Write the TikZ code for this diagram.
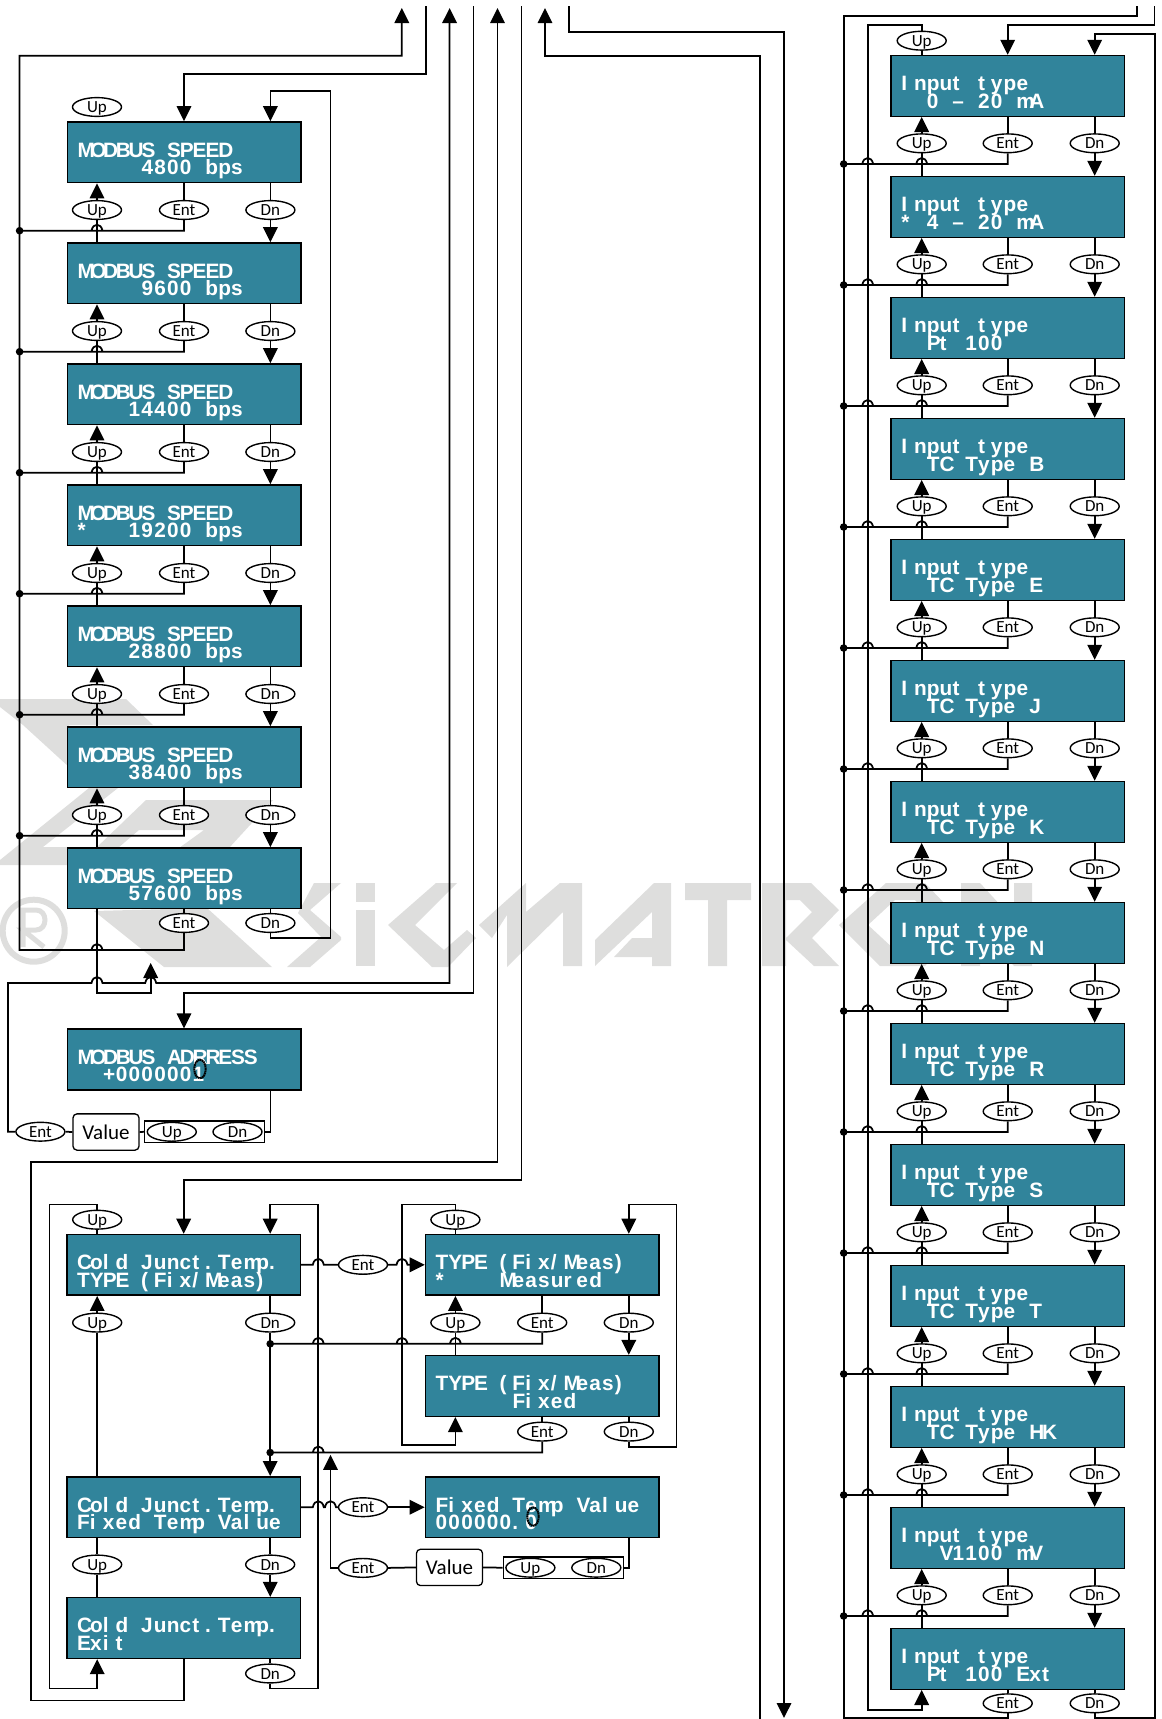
\documentclass[tikz,border=0pt]{standalone}
\usepackage{fontspec}
\usetikzlibrary{shapes.geometric,arrows.meta,calc}
\setmainfont{Liberation Sans}
\newfontfamily\keyfont{Carlito}
\definecolor{lcdteal}{HTML}{31849B}
\definecolor{wmgrey}{HTML}{DEDEDD}
\pgfdeclarelayer{wmlayer}
\pgfdeclarelayer{connlayer}
\pgfsetlayers{wmlayer,connlayer,main}
\makeatletter
\newcommand\lcdlineB[1]{\@tfor\lcdch:=#1\do{\makebox[12.8pt][l]{\lcdch}}}
\newcommand\lcdline[1]{\expandafter\lcdlineB\expandafter{#1}}
\makeatother
\newcommand\lcdii[2]{\makebox[213pt][l]{\bfseries\fontsize{20.8}{20.8}\selectfont\rlap{\raisebox{-4.9pt}[0pt][0pt]{\lcdline{#1}}}\rlap{\raisebox{-22.3pt}[0pt][0pt]{\lcdline{#2}}}}}
\newcommand\kl[1]{\raisebox{-5.6pt}[0pt][0pt]{\makebox[0pt]{\keyfont\fontsize{17}{17}\selectfont #1}}}
\newcommand\hh[2]{-- (#1-5.5,#2) .. controls (#1-4,#2-8) and (#1+4,#2-8) .. (#1+5.5,#2)}
\tikzset{
  lcd/.style={rectangle,draw=black,line width=1.5pt,fill=lcdteal,text=white,minimum width=233.5pt,minimum height=60.7pt,inner sep=0pt},
  keybtn/.style={ellipse,draw=black,line width=1.4pt,fill=white,minimum width=49pt,minimum height=18.8pt,inner sep=0pt},
  valbox/.style={rectangle,rounded corners=4pt,draw=black,line width=1.3pt,fill=white,minimum width=66pt,minimum height=36.3pt,inner sep=0pt,font=\keyfont\fontsize{21}{21}\selectfont},
  pairbox/.style={rectangle,draw=black,line width=1.3pt,fill=white,minimum width=120pt,minimum height=21.7pt,inner sep=0pt},
  jdot/.style={circle,fill=black,minimum size=7.6pt,inner sep=0pt},
  cursorring/.style={ellipse,draw=black,line width=2pt,dash pattern=on 1.6pt off 0.5pt,minimum width=11.5pt,minimum height=18.5pt,inner sep=0pt},
  conn/.style={draw=black,line width=1.75pt},
  arr/.style={conn,-{Triangle[length=15pt,width=14.5pt]}},
  wm/.style={fill=wmgrey,draw=none}
}
\begin{document}
\begin{tikzpicture}[x=1pt,y=-1pt]
\useasboundingbox (0,0) rectangle (1162,1719);
% free ends
\coordinate (tA) at (401.8,8);
\coordinate (tB) at (425.7,6);
\coordinate (tC) at (449.6,8);
\coordinate (tD) at (473.6,6);
\coordinate (tE) at (497.5,8);
\coordinate (tF) at (521.4,6);
\coordinate (tG) at (545,8);
\coordinate (tH) at (569,6);
\coordinate (tI) at (1136.7,6);
\coordinate (tJ) at (1154.5,6);
\coordinate (bG) at (760,1719);
\coordinate (bH) at (784,1718);
\coordinate (tipV) at (150.7,963);
\coordinate (tipW) at (330.5,1454.8);
% left column
\node[keybtn] (mu0) at (97,107) {\kl{Up}};
\foreach \i/\tx in {1/\ \ \ \ \ 4800\ bps,2/\ \ \ \ \ 9600\ bps,3/\ \ \ \ 14400\ bps,4/*\ \ \ 19200\ bps,5/\ \ \ \ 28800\ bps,6/\ \ \ \ 38400\ bps,7/\ \ \ \ 57600\ bps}{
  \node[lcd] (m\i) at (184,{152.3+121*(\i-1)}) {\lcdii{MODBUS\ SPEED}{\tx}};
}
\foreach \i in {1,...,6}{
  \node[keybtn] (mu\i) at (97,{210+121*(\i-1)}) {\kl{Up}};
  \node[keybtn] (me\i) at (184,{210+121*(\i-1)}) {\kl{Ent}};
  \node[keybtn] (md\i) at (270.4,{210+121*(\i-1)}) {\kl{Dn}};
  \node[jdot] (mj\i) at (19.6,{230.7+121*(\i-1)}) {};
}
\node[keybtn] (me7) at (184,923) {\kl{Ent}};
\node[keybtn] (md7) at (270.4,923) {\kl{Dn}};
% modbus address
\node[lcd] (addr) at (184,1059.5) {\lcdii{MODBUS\ ADRRESS}{\ \ +0000001}};
\node[cursorring] (ring1) at (200,1069) {};
\node[keybtn] (ent8) at (40.4,1131.7) {\kl{Ent}};
\node[valbox] (val1) at (106,1132) {Value};
\node[pairbox] (pair1) at (204.6,1131.8) {};
\node[keybtn] (up8) at (171.8,1131.8) {\kl{Up}};
\node[keybtn] (dn8) at (237.5,1131.8) {\kl{Dn}};
% cold junction
\node[lcd] (c1) at (183.7,1264.8) {\lcdii{Cold\ Junct.Temp.}{TYPE\ (Fix/Meas)}};
\node[lcd] (c2) at (183.7,1507.2) {\lcdii{Cold\ Junct.Temp.}{Fixed\ Temp\ Value}};
\node[lcd] (c3) at (183.7,1628) {\lcdii{Cold\ Junct.Temp.}{Exit}};
\node[lcd] (t1) at (542.2,1264.8) {\lcdii{TYPE\ (Fix/Meas)}{*\ \ \ \ Measured}};
\node[lcd] (t2) at (542.2,1386) {\lcdii{TYPE\ (Fix/Meas)}{\ \ \ \ \ \ Fixed}};
\node[lcd] (f1) at (542.2,1507.2) {\lcdii{Fixed\ Temp\ Value}{000000.0}};
\node[cursorring] (ring2) at (533,1516.6) {};
\node[keybtn] (cu0) at (97.2,1219.7) {\kl{Up}};
\node[keybtn] (cu1) at (97.2,1322.6) {\kl{Up}};
\node[keybtn] (cd1) at (270.2,1322.6) {\kl{Dn}};
\node[keybtn] (cu2) at (97.2,1564.5) {\kl{Up}};
\node[keybtn] (cd2) at (270.2,1564.5) {\kl{Dn}};
\node[keybtn] (cd3) at (270.2,1673.5) {\kl{Dn}};
\node[keybtn] (ce1) at (363,1264.8) {\kl{Ent}};
\node[keybtn] (ce2) at (363,1507.2) {\kl{Ent}};
\node[keybtn] (ce3) at (363,1567.9) {\kl{Ent}};
\node[valbox] (val2) at (449.5,1567.4) {Value};
\node[pairbox] (pair2) at (563.2,1567.7) {};
\node[keybtn] (up9) at (530.4,1567.7) {\kl{Up}};
\node[keybtn] (dn9) at (596.3,1567.7) {\kl{Dn}};
\node[keybtn] (tu0) at (455.4,1219.7) {\kl{Up}};
\node[keybtn] (tu1) at (455.4,1322.6) {\kl{Up}};
\node[keybtn] (te1) at (542.2,1322.6) {\kl{Ent}};
\node[keybtn] (td1) at (628.8,1322.6) {\kl{Dn}};
\node[keybtn] (te2) at (542.2,1431.6) {\kl{Ent}};
\node[keybtn] (td2) at (628.8,1431.6) {\kl{Dn}};
\node[jdot] (cj1) at (270.2,1343.8) {};
\node[jdot] (cj2) at (270.2,1452.5) {};
% right column
\node[keybtn] (ru0) at (921.7,40.7) {\kl{Up}};
\foreach \i/\tx in {1/\ \ 0\ –\ 20\ mA,2/*\ 4\ –\ 20\ mA,3/\ \ Pt\ 100,4/\ \ TC\ Type\ B,5/\ \ TC\ Type\ E,6/\ \ TC\ Type\ J,7/\ \ TC\ Type\ K,8/\ \ TC\ Type\ N,9/\ \ TC\ Type\ R,10/\ \ TC\ Type\ S,11/\ \ TC\ Type\ T,12/\ \ TC\ Type\ HK,13/\ \ \ V1100\ mV,14/\ \ Pt\ 100\ Ext}{
  \node[lcd] (r\i) at (1007.8,{85.9+121*(\i-1)}) {\lcdii{Input\ type}{\tx}};
}
\foreach \i in {1,...,13}{
  \node[keybtn] (ru\i) at (921.7,{143.3+121*(\i-1)}) {\kl{Up}};
  \node[keybtn] (re\i) at (1007.7,{143.3+121*(\i-1)}) {\kl{Ent}};
  \node[keybtn] (rd\i) at (1094.7,{143.3+121*(\i-1)}) {\kl{Dn}};
  \node[jdot] (rj\i) at (843.7,{164+121*(\i-1)}) {};
}
\node[keybtn] (re14) at (1007.7,1703.3) {\kl{Ent}};
\node[keybtn] (rd14) at (1094.7,1703.3) {\kl{Dn}};

% watermark
\begin{pgfonlayer}{wmlayer}
\fill[wm] (0,699)--(126,699)--(153,725)--(69,725)--(69,767)--(23,725)--(0,707)--cycle;
\fill[wm] (89,788)--(118,788)--(43,847)--(68,847)--(68,865)--(0,865)--(0,860)--cycle;
\fill[wm] (146,800)--(273,800)--(229,848)--(179,848)--(204,830)--(139,830)--(118,848)--(96,848)--cycle;
\fill[wm] (94,911)--(164,967)--(272,967)--(207,908)--cycle;
\fill[wm] (314,883)--(341,883)--(310,910)--(341,937)--(341,940)--(310,967)--(287,967)--(321,937)--(298,913)--cycle;
\fill[wm] (356,883) rectangle (375,902);
\fill[wm] (356,910) rectangle (375,966);
\fill[wm] (388,925)--(436,883)--(457,883)--(415,925)--(444,950)--(467,930)--(476,938)--(448,967)--(432,967)--cycle;
\fill[wm] (479,925)--(526,883)--(526,912)--(560,883)--(582,883)--(582,966)--(563,966)--(563,912)--(507,967)--(507,915)--(492,938)--cycle;
\fill[wm] (595,940)--(654,883)--(671,883)--(671,966)--(652,966)--(652,957)--(614,957)--(632,938)--(652,938)--(652,912)--(595,966)--cycle;
\fill[wm] (685,883)--(751,883)--(751,900)--(727,900)--(727,966)--(708,966)--(708,900)--(685,900)--cycle;
\fill[wm,even odd rule] (762,883)--(811,883)--(839,910)--(812,938)--(839,966)--(814,966)--(786,940)--(786,966)--(762,966)--cycle (786,900)--(800,900)--(812,912)--(786,938)--cycle;
\fill[wm,even odd rule] (839,925)--(886,883)--(925,883)--(965,925)--(925,966)--(880,966)--cycle (868,925)--(895,900)--(915,900)--(940,925)--(915,950)--(895,950)--cycle;
\fill[wm] (961,883)--(980,883)--(1014,920)--(1014,883)--(1032,883)--(1032,966)--(1014,966)--(980,930)--(980,966)--(961,966)--cycle;
\draw[wmgrey,line width=6pt] (33.7,930.7) circle[radius=31];
\draw[wmgrey,line width=5pt] (23,947)--(23,910)--(36,910) .. controls (48,910) and (48,930) .. (36,930) --(23,930)--(44,947);
\end{pgfonlayer}

% connectors
\begin{pgfonlayer}{connlayer}
\foreach \i [evaluate=\i as \j using int(\i+1), evaluate=\i as \yy using 230.7+121*(\i-1)] in {1,...,6}{
  \draw[arr] (mu\i.north) -- (m\i.south -| mu\i);
  \draw[conn] (mu\i.south) -- (m\j.north -| mu\i);
  \draw[conn] (m\i.south -| me\i) -- (me\i.north);
  \draw[conn] (me\i.south) -- (184,\yy) \hh{97}{\yy} -- (mj\i.center);
  \draw[conn] (m\i.south -| md\i) -- (md\i.north);
  \draw[arr] (md\i.south) -- (m\j.north -| md\i);
}
\draw[conn] (m7.south -| me7) -- (me7.north);
\draw[conn] (m7.south -| md7) -- (md7.north);
\draw[arr] (me7.south) -- (184,950) \hh{97}{950} -- (19.6,950) -- (19.6,55.7) -- (401.8,55.7) -- (tA);
\draw[arr] (tB) -- (425.7,73.7) -- (184,73.7) -- (m1.north);
\draw[arr] (md7.south) -- (270.4,938.3) -- (330.4,938.3) -- (330.4,91) -- (270.4,91) -- (m1.north -| md1);
\draw[arr] (ent8.west) -- (7.9,1131.7) -- (7.9,983) \hh{97}{983} \hh{150.7}{983} -- (449.6,983) -- (tC);
\draw[arr] (m7.south -| mu0) -- (97,992.7) -- (150.7,992.7) -- (tipV);
\draw[arr] (tD) -- (473.6,992.7) -- (184,992.7) -- (addr.north);
\draw[conn] (addr.south -| md7) -- (270.4,1131.8) -- (pair1.east);
\draw[conn] (pair1.west) -- (val1.east);
\draw[conn] (val1.west) -- (ent8.east);
\draw[arr] (c3.south) -- (183.7,1700.5) -- (31.3,1700.5) -- (31.3,1162.3) -- (497.5,1162.3) -- (tE);
\draw[arr] (tF) -- (521.4,1180) -- (183.7,1180) -- (c1.north);
\draw[arr] (bG) -- (760,55.7) -- (545,55.7) -- (tG);
\draw[arr] (tH) -- (569,31.7) -- (784,31.7) -- (bH);
% cold junction connectors
\draw[conn] (c1.north -| cu0) -- (cu0.south);
\draw[arr] (cu0.north) -- (97.2,1204.5) -- (49.5,1204.5) -- (49.5,1688.6) -- (97.2,1688.6) -- (c3.south -| cu0);
\draw[arr] (cu1.north) -- (c1.south -| cu1);
\draw[conn] (cu1.south) -- (c2.north -| cu1);
\draw[conn] (c2.south -| cu2) -- (cu2.north);
\draw[conn] (cu2.south) -- (c3.north -| cu2);
\draw[conn] (c1.south -| cd1) -- (cd1.north);
\draw[arr] (cd1.south) -- (cj1.center) -- (cj2.center) -- (c2.north -| cd1);
\draw[conn] (c2.south -| cd2) -- (cd2.north);
\draw[arr] (cd2.south) -- (c3.north -| cd2);
\draw[conn] (c3.south -| cd3) -- (cd3.north);
\draw[arr] (cd3.south) -- (270.2,1688.6) -- (318.3,1688.6) -- (318.3,1204.5) -- (270.2,1204.5) -- (c1.north -| cd1);
\draw[conn] (c1.east) \hh{318.3}{1264.8} -- (ce1.west);
\draw[arr] (ce1.east) \hh{402}{1264.8} -- (t1.west);
\draw[conn] (c2.east) \hh{318.3}{1507.2} \hh{330.5}{1507.2} -- (ce2.west);
\draw[arr] (ce2.east) -- (f1.west);
\draw[arr] (ce3.west) -- (330.5,1567.9) -- (tipW);
\draw[conn] (ce3.east) -- (val2.west);
\draw[conn] (val2.east) -- (pair2.west);
\draw[conn] (pair2.east) -- (628.8,1567.7) -- (f1.south -| td1);
\draw[conn] (t1.north -| tu0) -- (tu0.south);
\draw[arr] (tu0.north) -- (455.4,1204.5) -- (402,1204.5) -- (402,1445) -- (455.4,1445) -- (t2.south -| tu0);
\draw[arr] (tu1.north) -- (t1.south -| tu1);
\draw[conn] (tu1.south) -- (t2.north -| tu1);
\draw[conn] (t1.south -| te1) -- (te1.north);
\draw[conn] (te1.south) -- (542.2,1343.8) \hh{455.4}{1343.8} \hh{402}{1343.8} \hh{318.3}{1343.8} -- (cj1.center);
\draw[conn] (t1.south -| td1) -- (td1.north);
\draw[arr] (td1.south) -- (t2.north -| td1);
\draw[conn] (t2.south -| te2) -- (te2.north);
\draw[conn] (te2.south) -- (542.2,1452.5) \hh{318.3}{1452.5} -- (cj2.center);
\draw[conn] (t2.south -| td2) -- (td2.north);
\draw[arr] (td2.south) -- (628.8,1446.7) -- (676.5,1446.7) -- (676.5,1204.5) -- (628.8,1204.5) -- (t1.north -| td2);
% right column connectors
\foreach \i [evaluate=\i as \j using int(\i+1), evaluate=\i as \yy using 164+121*(\i-1)] in {1,...,13}{
  \draw[arr] (ru\i.north) -- (r\i.south -| ru\i);
  \draw[conn] (ru\i.south) -- (r\j.north -| ru\i);
  \draw[conn] (r\i.south -| re\i) -- (re\i.north);
  \draw[conn] (re\i.south) -- (1007.7,\yy) \hh{921.7}{\yy} \hh{867.7}{\yy} -- (rj\i.center);
  \draw[conn] (r\i.south -| rd\i) -- (rd\i.north);
  \draw[arr] (rd\i.south) -- (r\j.north -| rd\i);
}
\draw[conn] (r14.south -| re14) -- (re14.north);
\draw[conn] (r14.south -| rd14) -- (rd14.north);
\draw[conn] (re14.south) -- (1007.7,1718) -- (843.7,1718) -- (843.7,16) -- (1136.7,16) -- (tI);
\draw[arr] (tJ) -- (1154.5,25.3) -- (1007.7,25.3) -- (r1.north -| re1);
\draw[arr] (rd14.south) -- (1094.7,1718) -- (1154.7,1718) -- (1154.7,34.3) -- (1094.7,34.3) -- (r1.north -| rd1);
\draw[conn] (r1.north -| ru0) -- (ru0.south);
\draw[arr] (ru0.north) -- (921.7,25.3) -- (867.7,25.3) -- (867.7,1709.7) -- (921.7,1709.7) -- (r14.south -| ru0);
\end{pgfonlayer}
\end{tikzpicture}
\end{document}
